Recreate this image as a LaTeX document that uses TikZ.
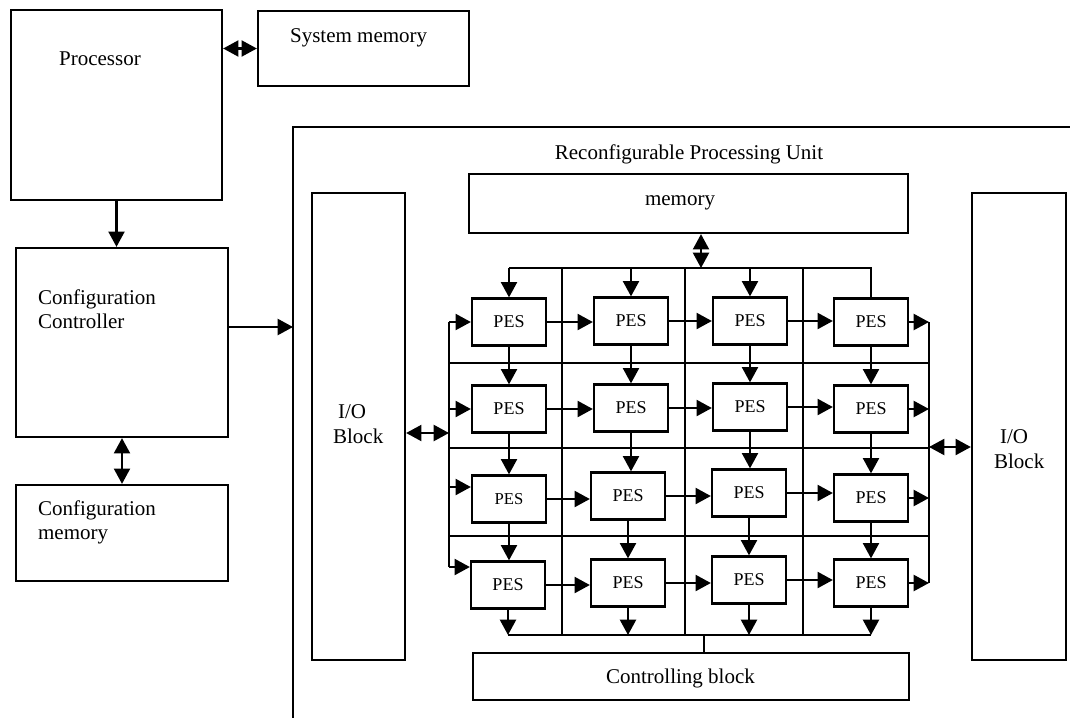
\documentclass[tikz,border=0pt]{standalone}
\usepackage{fontspec}
\setmainfont{Liberation Serif}
\usetikzlibrary{arrows.meta,fit,calc}

\begin{document}
\begin{tikzpicture}[x=0.75pt,y=-0.75pt,line width=1.7pt,
  box/.style={draw,inner sep=0pt,line width=1.7pt},
  pes/.style={draw,minimum width=55.5pt,minimum height=35.25pt,inner sep=0pt,
    font=\fontsize{13.5}{16}\selectfont},
  lbl/.style={anchor=base west,inner sep=0pt,font=\fontsize{15.75}{18}\selectfont},
  clbl/.style={anchor=base,inner sep=0pt,font=\fontsize{15.75}{18}\selectfont},
  tip/.tip={Triangle[length=11.5pt,width=12pt]},
  arr/.style={-tip},
  dbl/.style={tip-tip}]

\useasboundingbox (0,0) rectangle (1070,718);

% host side blocks
\node[box,fit={(11,10)(222,200)}] (proc) {};
\node[box,fit={(258,11)(469,86)}] (sm) {};
\node[box,fit={(16,248)(228,437)}] (cc) {};
\node[box,fit={(16,485)(228,581)}] (cm) {};

\node[lbl] (tproc) at (58,65) {Processor};
\node[lbl] (tsm) at (289,42) {System memory};
\node[lbl] (tcc1) at (37,304) {Configuration};
\node[lbl] (tcc2) at (37,328) {Controller};
\node[lbl] (tcm1) at (37,515) {Configuration};
\node[lbl] (tcm2) at (37,539) {memory};

% reconfigurable unit frame (open to the right and bottom)
\draw (1070,127) -- (293,127) -- (293,718);
\coordinate (rpuin) at (293,327);
\node[clbl] (trpu) at (689,159) {Reconfigurable Processing Unit};

% blocks inside the unit
\node[box,fit={(469,174)(908,233)}] (mem) {};
\node[box,fit={(312,193)(405,660)}] (lio) {};
\node[box,fit={(972,193)(1066,660)}] (rio) {};
\node[box,fit={(473,653)(909,700)}] (ctl) {};

\node[clbl] (tmem) at (680,205) {memory};
\node[lbl] (tlio1) at (337,418) {I/O};
\node[lbl] (tlio2) at (332,443) {Block};
\node[lbl] (trio1) at (999,443) {I/O};
\node[lbl] (trio2) at (993,468) {Block};
\node[lbl] (tctl) at (605,683) {Controlling block};

% processing elements
\node[pes] (P11) at (509,322) {PES};
\node[pes] (P12) at (631,321) {PES};
\node[pes] (P13) at (750,321) {PES};
\node[pes] (P14) at (871,322) {PES};
\node[pes] (P21) at (509,409) {PES};
\node[pes] (P22) at (631,408) {PES};
\node[pes] (P23) at (750,407) {PES};
\node[pes] (P24) at (871,409) {PES};
\node[pes,font=\fontsize{12.5}{15}\selectfont] (P31) at (509,499) {PES};
\node[pes] (P32) at (628,496) {PES};
\node[pes] (P33) at (749,493) {PES};
\node[pes] (P34) at (871,498) {PES};
\node[pes] (P41) at (508,585) {PES};
\node[pes] (P42) at (628,583) {PES};
\node[pes] (P43) at (749,580) {PES};
\node[pes] (P44) at (871,583) {PES};

% host connections
\draw[dbl] (sm.west -| proc.east) -- (sm.west);
\draw[arr] (proc.south) -- (proc.south |- cc.north);
\draw[dbl] (cc.south) -- (cm.north);
\draw[arr] (cc.east |- rpuin) -- (rpuin);

% bus and grid wiring
\coordinate (tbus) at (701,268);
\coordinate (bbus) at (704,635);
\coordinate (lvA) at (449,322);
\coordinate (lvB) at (449,409);
\coordinate (lvC) at (449,487);
\coordinate (lvD) at (449,567);
\coordinate (lvio) at (449,433);
\coordinate (rvio) at (929,447);
\coordinate (rvx) at (929,0);

\draw[dbl] (tbus |- mem.south) -- (tbus);
\draw (P11.north |- tbus) -- (P14.north |- tbus) -- (P14.north);
\foreach \n in {P11,P12,P13} \draw[arr] (\n.north |- tbus) -- (\n.north);

\foreach \x in {562,685,803} \draw (\x,268) -- (\x,635);
\foreach \y in {363,448,536} \draw (449,\y) -- (929,\y);

% left feed line
\draw (lvA) -- (lvD);
\draw[arr] (lvA) -- (lvA -| P11.west);
\draw[arr] (lvB) -- (lvB -| P21.west);
\draw[arr] (lvC) -- (lvC -| P31.west);
\draw[arr] (lvD) -- (lvD -| P41.west);
\draw[dbl] (lio.east |- lvio) -- (lvio);

% right collect line
\draw (P14.east -| rvx) -- (P44.east -| rvx);
\foreach \n in {P14,P24,P34,P44} \draw[arr] (\n.east) -- (\n.east -| rvx);
\draw[dbl] (rvio) -- (rvio -| rio.west);

% row links
\foreach \a/\b in {P11/P12,P12/P13,P13/P14,P21/P22,P22/P23,P23/P24,
                   P31/P32,P32/P33,P33/P34,P41/P42,P42/P43,P43/P44}
  \draw[arr] (\a.east) -- (\a.east -| \b.west);

% column links
\foreach \a/\b in {P11/P21,P21/P31,P31/P41,P12/P22,P22/P32,P32/P42,
                   P13/P23,P23/P33,P33/P43,P14/P24,P24/P34,P34/P44}
  \draw[arr] (\a.south) -- (\a.south |- \b.north);

% bottom bus to the controlling block
\draw (P41.south |- bbus) -- (P44.south |- bbus);
\foreach \n in {P41,P42,P43,P44} \draw[arr] (\n.south) -- (\n.south |- bbus);
\draw (bbus) -- (bbus |- ctl.north);

\end{tikzpicture}
\end{document}
